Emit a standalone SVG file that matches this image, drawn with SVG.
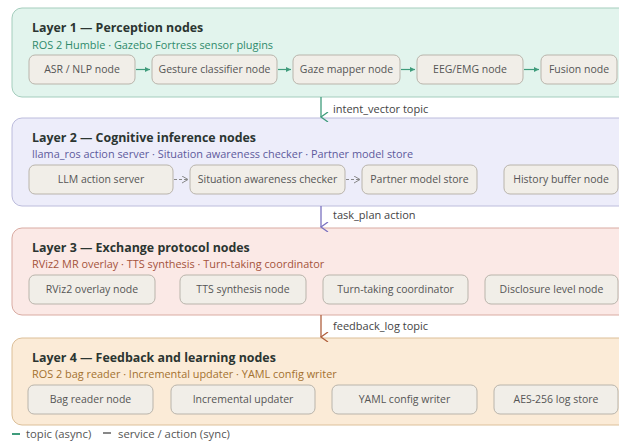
<svg xmlns="http://www.w3.org/2000/svg" width="619" height="441" viewBox="0 0 619 441">
<defs>
<marker id="ag" markerWidth="6" markerHeight="6" refX="5" refY="3" orient="auto" markerUnits="userSpaceOnUse"><path d="M0,0.5 L5,3 L0,5.5 Z" fill="#3f9c7c"/></marker>
<marker id="agr" markerWidth="8" markerHeight="8" refX="6" refY="4" orient="auto" markerUnits="userSpaceOnUse"><path d="M0,0.5 L6,4 L0,7.5" fill="none" stroke="#888" stroke-width="1"/></marker>
<marker id="dg" markerWidth="10" markerHeight="10" refX="5" refY="8" orient="auto" markerUnits="userSpaceOnUse"><path d="M0,1 L5,8 L10,1" fill="none" stroke="#3f9c7c" stroke-width="1.3"/></marker>
<marker id="dp" markerWidth="10" markerHeight="10" refX="5" refY="8" orient="auto" markerUnits="userSpaceOnUse"><path d="M0,1 L5,8 L10,1" fill="none" stroke="#7a72c0" stroke-width="1.3"/></marker>
<marker id="db" markerWidth="10" markerHeight="10" refX="5" refY="8" orient="auto" markerUnits="userSpaceOnUse"><path d="M0,1 L5,8 L10,1" fill="none" stroke="#b0603e" stroke-width="1.3"/></marker>
</defs>
<style>
text{font-family:"Open Sans","Noto Sans","Liberation Sans",sans-serif}
.title{font-size:12.4px;font-weight:bold;fill:#2b3531}
.sub{font-size:10.9px}
.nt{font-size:10.5px;fill:#555;text-anchor:middle}
.node{fill:#f1eee8;stroke:#b9b4ab;stroke-width:1}
.lbl{font-size:11px;fill:#444}
.lg{font-size:11.3px;fill:#555}
</style>
<rect width="619" height="441" fill="#ffffff"/>

<g id="layer1">
<rect x="12" y="8" width="620" height="89" rx="10" fill="#e2f4ed" stroke="#a4cdbd"/>
<text x="32" y="32" class="title">Layer 1 — Perception nodes</text>
<text x="32" y="48.5" class="sub" fill="#2f8a6b">ROS 2 Humble · Gazebo Fortress sensor plugins</text>
</g>
<g id="n-asr"><rect x="29" y="55" width="106" height="29" rx="6" class="node"/><text x="82" y="73" class="nt">ASR / NLP node</text></g>
<g id="n-gesture"><rect x="152" y="55" width="125" height="29" rx="6" class="node"/><text x="214.5" y="73" class="nt">Gesture classifier node</text></g>
<g id="n-gaze"><rect x="293" y="55" width="107" height="29" rx="6" class="node"/><text x="346.5" y="73" class="nt">Gaze mapper node</text></g>
<g id="n-eeg"><rect x="417" y="55" width="106" height="29" rx="6" class="node"/><text x="470" y="73" class="nt">EEG/EMG node</text></g>
<g id="n-fusion"><rect x="541" y="55" width="76" height="29" rx="6" class="node"/><text x="579" y="73" class="nt">Fusion node</text></g>

<g id="layer2">
<rect x="12" y="118" width="620" height="88" rx="10" fill="#ededfa" stroke="#bcbcdc"/>
<text x="32" y="142" class="title">Layer 2 — Cognitive inference nodes</text>
<text x="32" y="157.5" class="sub" fill="#5d5a9c">llama_ros action server · Situation awareness checker · Partner model store</text>
</g>
<g id="n-llm"><rect x="29" y="165" width="144" height="29" rx="6" class="node"/><text x="101" y="183" class="nt">LLM action server</text></g>
<g id="n-sa"><rect x="190" y="165" width="155" height="29" rx="6" class="node"/><text x="267.5" y="183" class="nt">Situation awareness checker</text></g>
<g id="n-partner"><rect x="362" y="165" width="115" height="29" rx="6" class="node"/><text x="419.5" y="183" class="nt">Partner model store</text></g>
<g id="n-history"><rect x="504" y="165" width="114" height="29" rx="6" class="node"/><text x="561" y="183" class="nt">History buffer node</text></g>

<g id="layer3">
<rect x="12" y="228" width="620" height="87" rx="10" fill="#fbe9e6" stroke="#d9aba2"/>
<text x="32" y="252" class="title">Layer 3 — Exchange protocol nodes</text>
<text x="32" y="267.5" class="sub" fill="#a4533b">RViz2 MR overlay · TTS synthesis · Turn-taking coordinator</text>
</g>
<g id="n-rviz"><rect x="29" y="275" width="126" height="29" rx="6" class="node"/><text x="92" y="293" class="nt">RViz2 overlay node</text></g>
<g id="n-tts"><rect x="180" y="275" width="126" height="29" rx="6" class="node"/><text x="243" y="293" class="nt">TTS synthesis node</text></g>
<g id="n-turn"><rect x="323" y="275" width="145" height="29" rx="6" class="node"/><text x="395.5" y="293" class="nt">Turn-taking coordinator</text></g>
<g id="n-disclosure"><rect x="485" y="275" width="133" height="29" rx="6" class="node"/><text x="551.5" y="293" class="nt">Disclosure level node</text></g>

<g id="layer4">
<rect x="12" y="338" width="620" height="87" rx="10" fill="#fbebd7" stroke="#dcbf98"/>
<text x="32" y="362" class="title">Layer 4 — Feedback and learning nodes</text>
<text x="32" y="377.5" class="sub" fill="#a3712f">ROS 2 bag reader · Incremental updater · YAML config writer</text>
</g>
<g id="n-bag"><rect x="28" y="385" width="125" height="29" rx="6" class="node"/><text x="90.5" y="403" class="nt">Bag reader node</text></g>
<g id="n-incr"><rect x="171" y="385" width="144" height="29" rx="6" class="node"/><text x="243" y="403" class="nt">Incremental updater</text></g>
<g id="n-yaml"><rect x="332" y="385" width="145" height="29" rx="6" class="node"/><text x="404.5" y="403" class="nt">YAML config writer</text></g>
<g id="n-aes"><rect x="494" y="385" width="124" height="29" rx="6" class="node"/><text x="556" y="403" class="nt">AES-256 log store</text></g>

<g id="connectors" fill="none">
<line x1="136" y1="69.5" x2="150" y2="69.5" stroke="#3f9c7c" stroke-width="1.2" marker-end="url(#ag)"/>
<line x1="278" y1="69.5" x2="291" y2="69.5" stroke="#3f9c7c" stroke-width="1.2" marker-end="url(#ag)"/>
<line x1="401" y1="69.5" x2="415" y2="69.5" stroke="#3f9c7c" stroke-width="1.2" marker-end="url(#ag)"/>
<line x1="524" y1="69.5" x2="539" y2="69.5" stroke="#3f9c7c" stroke-width="1.2" marker-end="url(#ag)"/>
<line x1="174" y1="179.5" x2="188" y2="179.5" stroke="#888" stroke-width="1" stroke-dasharray="3,2" marker-end="url(#agr)"/>
<line x1="346" y1="179.5" x2="360" y2="179.5" stroke="#888" stroke-width="1" stroke-dasharray="3,2" marker-end="url(#agr)"/>
<line x1="321" y1="97" x2="321" y2="117" stroke="#3f9c7c" stroke-width="1.3" marker-end="url(#dg)"/>
<line x1="321" y1="206" x2="321" y2="227" stroke="#7a72c0" stroke-width="1.3" marker-end="url(#dp)"/>
<line x1="321" y1="315" x2="321" y2="337" stroke="#b0603e" stroke-width="1.3" marker-end="url(#db)"/>
<text x="333" y="113" class="lbl">intent_vector topic</text>
<text x="333" y="219" class="lbl">task_plan action</text>
<text x="333" y="330" class="lbl">feedback_log topic</text>
</g>

<g id="legend">
<line x1="12" y1="434" x2="20" y2="434" stroke="#3f9c7c" stroke-width="2"/>
<text x="26" y="438" class="lg">topic (async)</text>
<line x1="103" y1="433" x2="111" y2="433" stroke="#888" stroke-width="2"/>
<text x="118" y="438" class="lg">service / action (sync)</text>
</g>
</svg>
